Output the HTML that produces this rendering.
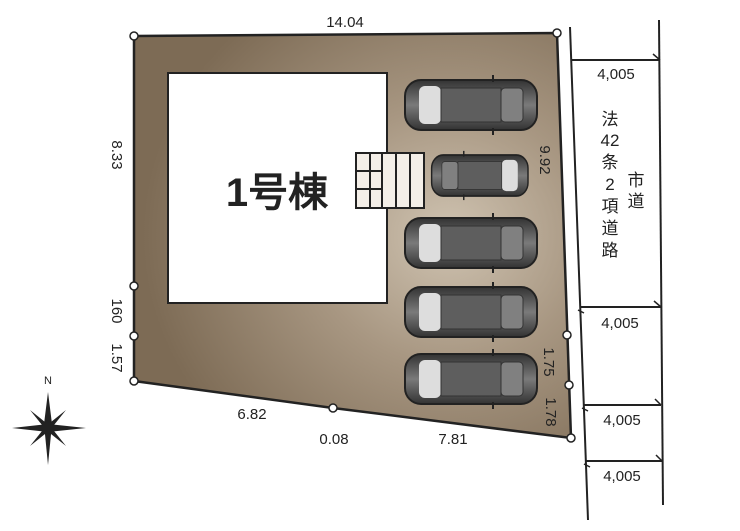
<!DOCTYPE html>
<html><head><meta charset="utf-8"><style>
body{margin:0;background:#fff;width:740px;height:526px;overflow:hidden}
svg text{font-family:"Liberation Sans",sans-serif;fill:#222}
</style></head><body>
<svg width="740" height="526" viewBox="0 0 740 526" xmlns="http://www.w3.org/2000/svg">
<defs>
<radialGradient id="g" cx="0.72" cy="0.5" r="0.7">
<stop offset="0" stop-color="#cfc3b1"/><stop offset="0.45" stop-color="#a89782"/><stop offset="1" stop-color="#7d6b55"/>
</radialGradient>
<linearGradient id="car" x1="0" y1="0" x2="0" y2="1">
<stop offset="0" stop-color="#333"/><stop offset="0.5" stop-color="#7a7a7a"/><stop offset="1" stop-color="#333"/>
</linearGradient>
<g id="c">
<rect x="0" y="0" width="132" height="50" rx="16" fill="url(#car)" stroke="#222" stroke-width="2"/>
<rect x="14" y="6" width="22" height="38" rx="6" fill="#ddd"/>
<rect x="36" y="8" width="60" height="34" fill="#5e5e5e" stroke="#333"/>
<rect x="96" y="8" width="22" height="34" rx="4" fill="#808080" stroke="#333"/>
<line x1="88" y1="-5" x2="88" y2="2" stroke="#222" stroke-width="2"/>
<line x1="88" y1="48" x2="88" y2="55" stroke="#222" stroke-width="2"/>
</g>
</defs>
<polygon points="134,36 557,33 571,438 333,408 134,381" fill="url(#g)" stroke="#222" stroke-width="2.5"/>
<rect x="168" y="73" width="219" height="230" fill="#fff" stroke="#222" stroke-width="2"/>
<g stroke="#222" stroke-width="2" fill="#f4efe8">
<rect x="356" y="153" width="68" height="55"/>
<line x1="382" y1="153" x2="382" y2="208"/><line x1="396" y1="153" x2="396" y2="208"/><line x1="410" y1="153" x2="410" y2="208"/>
<line x1="356" y1="171" x2="382" y2="171"/><line x1="356" y1="189" x2="382" y2="189"/><line x1="370" y1="153" x2="370" y2="208"/>
</g>
<use href="#c" x="405" y="80"/>
<use href="#c" x="405" y="218"/>
<use href="#c" x="405" y="287"/>
<use href="#c" x="405" y="354"/>
<g transform="translate(528,155) scale(-0.73,0.82)"><use href="#c"/></g>
<g fill="#fff" stroke="#222" stroke-width="1.5">
<circle cx="134" cy="36" r="4"/><circle cx="557" cy="33" r="4"/><circle cx="567" cy="335" r="4"/><circle cx="569" cy="385" r="4"/><circle cx="571" cy="438" r="4"/><circle cx="333" cy="408" r="4"/><circle cx="134" cy="381" r="4"/><circle cx="134" cy="336" r="4"/><circle cx="134" cy="286" r="4"/>
</g>
<text x="277" y="206" font-size="40" font-weight="bold" text-anchor="middle" font-family="Liberation Sans,Noto Sans CJK JP,sans-serif">1号棟</text>
<text x="345" y="27" font-size="15" text-anchor="middle">14.04</text>
<text transform="translate(112,155) rotate(90)" font-size="15" text-anchor="middle">8.33</text>
<text transform="translate(112,311) rotate(90)" font-size="15" text-anchor="middle">160</text>
<text transform="translate(112,358) rotate(90)" font-size="15" text-anchor="middle">1.57</text>
<text transform="translate(540,160) rotate(90)" font-size="15" text-anchor="middle">9.92</text>
<text transform="translate(544,362) rotate(90)" font-size="15" text-anchor="middle">1.75</text>
<text transform="translate(546,412) rotate(90)" font-size="15" text-anchor="middle">1.78</text>
<text x="252" y="419" font-size="15" text-anchor="middle">6.82</text>
<text x="334" y="444" font-size="15" text-anchor="middle">0.08</text>
<text x="453" y="444" font-size="15" text-anchor="middle">7.81</text>
<g stroke="#222" stroke-width="2" fill="none">
<line x1="570" y1="27" x2="588" y2="520"/><line x1="659" y1="20" x2="663" y2="505"/>
<line x1="571" y1="60" x2="660" y2="60"/><line x1="580" y1="307" x2="661" y2="307"/><line x1="584" y1="405" x2="661" y2="405"/><line x1="586" y1="461" x2="662" y2="461"/>
<path d="M653,54 L660,60 M578,310 L584,313 M654,301 L661,307 M582,408 L588,411 M655,399 L661,405 M584,464 L590,467 M656,455 L662,461" stroke-width="1.5"/>
</g>
<g font-size="15" text-anchor="middle">
<text x="616" y="79">4,005</text><text x="620" y="328">4,005</text><text x="622" y="425">4,005</text><text x="622" y="481">4,005</text>
</g>
<g font-size="17" text-anchor="middle" font-family="Liberation Sans,Noto Sans CJK JP,sans-serif">
<text x="610" y="125">法</text><text x="610" y="146">42</text><text x="610" y="168">条</text><text x="610" y="190">2</text><text x="610" y="212">項</text><text x="610" y="234">道</text><text x="610" y="256">路</text>
<text x="636" y="186">市</text><text x="636" y="207">道</text>
</g>
<text x="48" y="384" font-size="11" text-anchor="middle" font-family="Liberation Serif,serif">N</text>
<g fill="#222">
<polygon points="48,392 52,424 48,465 44,424"/>
<polygon points="12,428 48,424 86,428 48,432"/>
<polygon points="30,410 50,426 66,446 46,430"/>
<polygon points="66,410 50,430 30,446 46,426"/>
</g>
</svg>
</body></html>
